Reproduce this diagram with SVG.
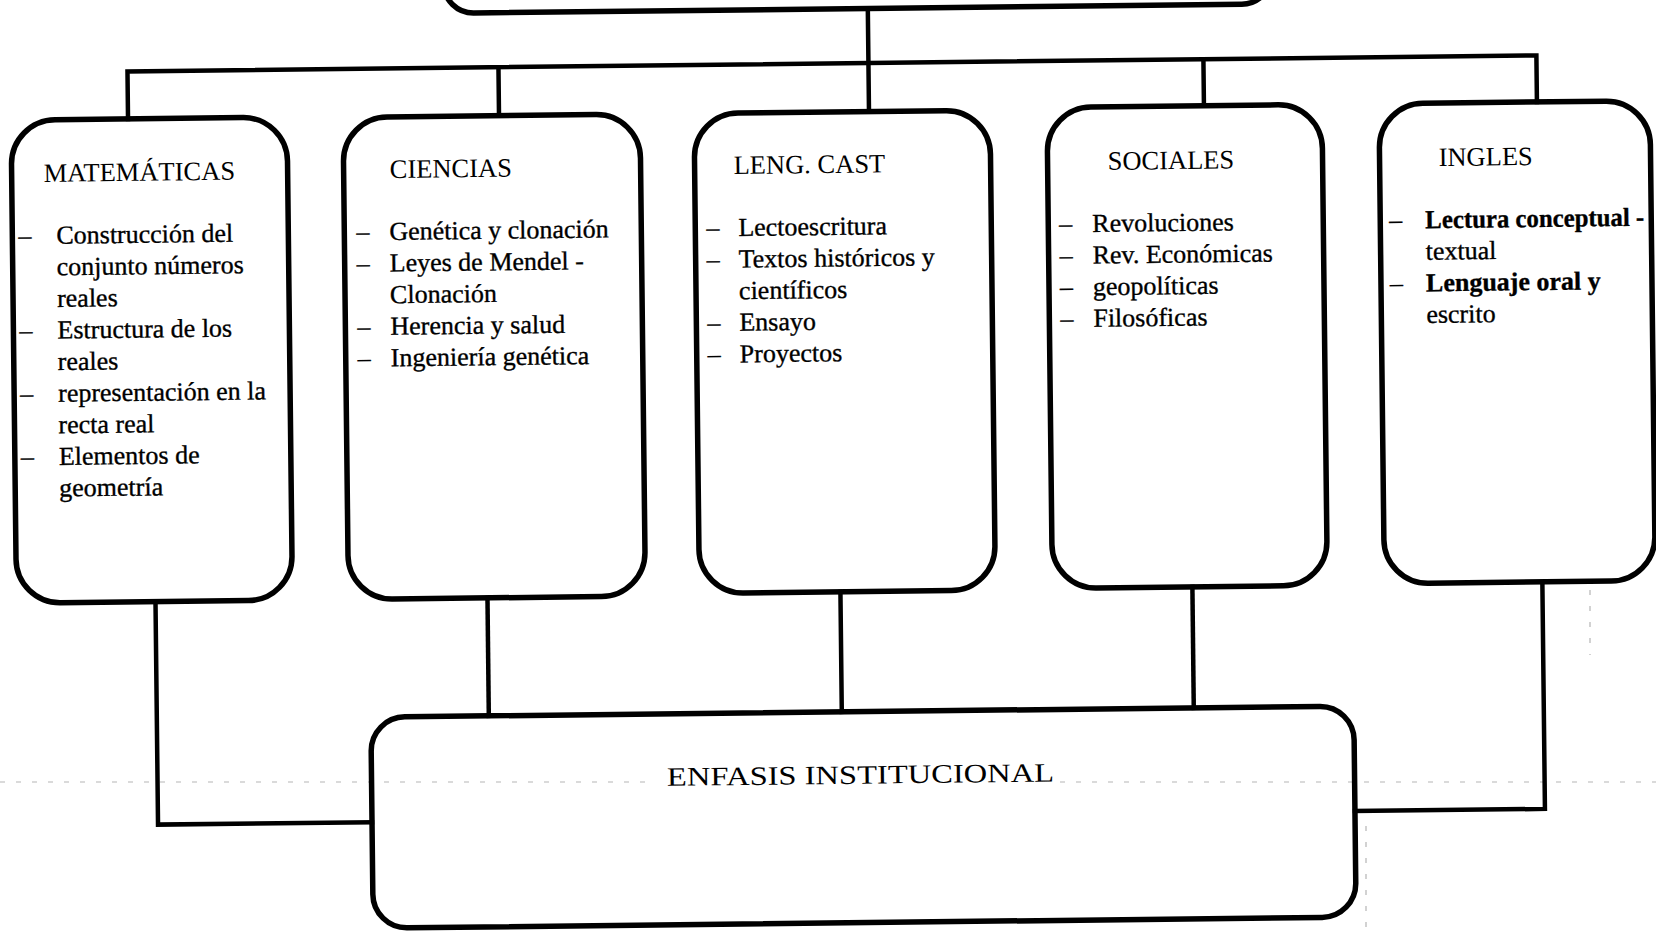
<svg xmlns="http://www.w3.org/2000/svg" width="1656" height="932" viewBox="0 0 1656 932">
<style>
.box{fill:none;stroke:#000;stroke-width:5.5}
.wire{fill:none;stroke:#000;stroke-width:4.5;stroke-linecap:square}
.t{font-family:"Liberation Serif","Times New Roman",serif;font-size:26px;fill:#000;stroke:#000;stroke-width:0.35}
.h{font-family:"Liberation Serif","Times New Roman",serif;font-size:26.5px;fill:#000}
.b{font-weight:bold}
.art{fill:none;stroke:#b5b5b5;stroke-width:1.2;stroke-dasharray:5 11}
</style>
<rect width="1656" height="932" fill="#fff"/>
<g id="artifacts">
<path class="art" d="M0 782 H650 M1060 782 H1656"/>
<path class="art" d="M1366 826 V932 M1590 590 V655"/>
</g>
<g transform="rotate(-0.65 828 466)">
<g id="connectors">
<path class="wire" d="M873 9 V112"/>
<path class="wire" d="M132 111 V63.5 H1541 V110"/>
<path class="wire" d="M503 63.5 V112"/>
<path class="wire" d="M1208 63.5 V110"/>
<path class="wire" d="M154 594 V817 H368"/>
<path class="wire" d="M486 594 V712"/>
<path class="wire" d="M839 592 V712"/>
<path class="wire" d="M1191 591 V712"/>
<path class="wire" d="M1541 590 V817 H1351"/>
</g>
<g id="top">
<rect class="box" x="449" y="-80" width="828" height="89" rx="30"/>
</g>
<g id="matematicas">
<rect class="box" x="15" y="111" width="276" height="483" rx="44"/>
<text class="h" x="47" y="173">MATEMÁTICAS</text>
<text class="t" x="21" y="235">–</text>
<text class="t" x="21" y="329.8">–</text>
<text class="t" x="21" y="393">–</text>
<text class="t" x="21" y="456.2">–</text>
<text class="t" x="59" y="235">Construcción del</text>
<text class="t" x="59" y="266.6">conjunto números</text>
<text class="t" x="59" y="298.2">reales</text>
<text class="t" x="59" y="329.8">Estructura de los</text>
<text class="t" x="59" y="361.4">reales</text>
<text class="t" x="59" y="393">representación en la</text>
<text class="t" x="59" y="424.6">recta real</text>
<text class="t" x="59" y="456.2">Elementos de</text>
<text class="t" x="59" y="487.8">geometría</text>
</g>
<g id="ciencias">
<rect class="box" x="347" y="112" width="297" height="482" rx="44"/>
<text class="h" x="393" y="173">CIENCIAS</text>
<text class="t" x="359" y="235">–</text>
<text class="t" x="359" y="266.6">–</text>
<text class="t" x="359" y="329.8">–</text>
<text class="t" x="359" y="361.4">–</text>
<text class="t" x="392" y="235">Genética y clonación</text>
<text class="t" x="392" y="266.6">Leyes de Mendel -</text>
<text class="t" x="392" y="298.2">Clonación</text>
<text class="t" x="392" y="329.8">Herencia y salud</text>
<text class="t" x="392" y="361.4">Ingeniería genética</text>
</g>
<g id="leng">
<rect class="box" x="698" y="112" width="296" height="480" rx="44"/>
<text class="h" x="737" y="173">LENG. CAST</text>
<text class="t" x="709" y="235">–</text>
<text class="t" x="709" y="266.6">–</text>
<text class="t" x="709" y="329.8">–</text>
<text class="t" x="709" y="361.4">–</text>
<text class="t" x="741" y="235">Lectoescritura</text>
<text class="t" x="741" y="266.6">Textos  históricos y</text>
<text class="t" x="741" y="298.2">científicos</text>
<text class="t" x="741" y="329.8">Ensayo</text>
<text class="t" x="741" y="361.4">Proyectos</text>
</g>
<g id="sociales">
<rect class="box" x="1051" y="110" width="275" height="481" rx="44"/>
<text class="h" x="1111" y="173">SOCIALES</text>
<text class="t" x="1062" y="235">–</text>
<text class="t" x="1062" y="266.6">–</text>
<text class="t" x="1062" y="298.2">–</text>
<text class="t" x="1062" y="329.8">–</text>
<text class="t" x="1095" y="235">Revoluciones</text>
<text class="t" x="1095" y="266.6">Rev. Económicas</text>
<text class="t" x="1095" y="298.2">geopolíticas</text>
<text class="t" x="1095" y="329.8">Filosóficas</text>
</g>
<g id="ingles">
<rect class="box" x="1383" y="110" width="271" height="480" rx="44"/>
<text class="h" x="1442" y="173">INGLES</text>
<text class="t" x="1392" y="235">–</text>
<text class="t" x="1392" y="298.2">–</text>
<text class="t b" x="1428" y="235" textLength="219" lengthAdjust="spacingAndGlyphs">Lectura conceptual -</text>
<text class="t" x="1428" y="266.6">textual</text>
<text class="t b" x="1428" y="298.2">Lenguaje oral y</text>
<text class="t" x="1428" y="329.8">escrito</text>
</g>
<g id="enfasis">
<rect class="box" x="368" y="712" width="983" height="211" rx="34"/>
<text class="h" x="857" y="784" text-anchor="middle" font-size="33" textLength="387" lengthAdjust="spacingAndGlyphs">ENFASIS INSTITUCIONAL</text>
</g>
</g>
</svg>
